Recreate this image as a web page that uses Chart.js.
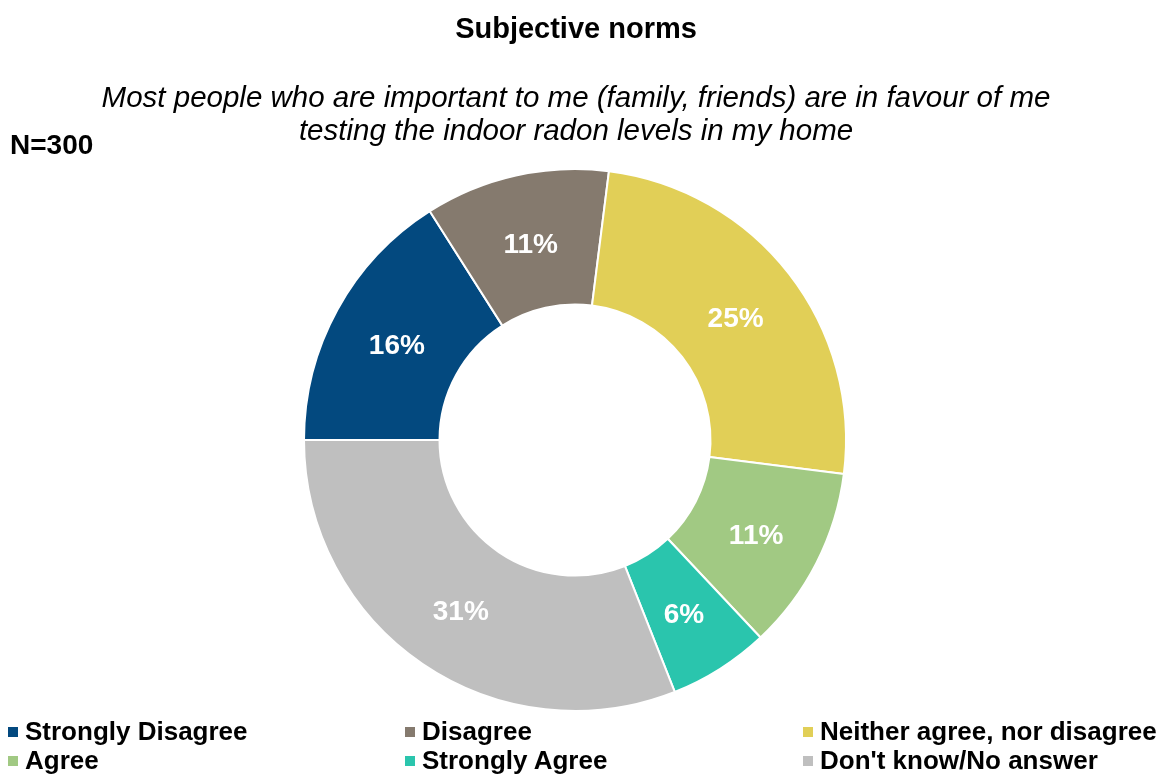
<!DOCTYPE html>
<html>
<head>
<meta charset="utf-8">
<script src="https://cdn.jsdelivr.net/npm/chart.js@4"></script>
<style>
  body { margin: 0; background: #fff; font-family: "Liberation Sans", Arial, sans-serif; }
  #wrap { position: relative; width: 1169px; height: 774px; overflow: hidden; }
  #chart { position: absolute; left: 0; top: 0; }
  .title { position: absolute; left: 0; width: 1152px; text-align: center; color: #000; line-height: 33px; }
  #t1 { top: 12px; font-size: 29px; font-weight: bold; }
  #t2 { top: 80px; font-size: 29.5px; font-style: italic; }
  #n { position: absolute; left: 10px; top: 129px; font-size: 28px; font-weight: bold; line-height: 32px; }
  .leg { position: absolute; font-size: 26px; font-weight: bold; white-space: nowrap; line-height: 30px; }
  .leg span { display: inline-block; width: 10px; height: 10px; margin-right: 7px; vertical-align: 3px; }
</style>
</head>
<body>
<div id="wrap">
  <canvas id="chart" width="1169" height="774"></canvas>
  <div class="title" id="t1">Subjective norms</div>
  <div class="title" id="t2">Most people who are important to me (family, friends) are in favour of me<br>testing the indoor radon levels in my home</div>
  <div id="n">N=300</div>
</div>
<script>
// answer categories and share of respondents (%)
const labels = ["Strongly Disagree", "Disagree", "Neither agree, nor disagree", "Agree", "Strongly Agree", "Don't know/No answer"];
const values = [16, 11, 25, 11, 6, 31];
const colors = ["#03497f", "#857a6e", "#e1cf57", "#a1c983", "#2ac5ad", "#bfbfbf"];

// legend: 3 columns, 2 rows
const legCols = [8, 405, 803];
const legRows = [716, 745];
labels.forEach((lab, i) => {
  const d = document.createElement("div");
  d.className = "leg";
  d.style.left = legCols[i % 3] + "px";
  d.style.top = legRows[Math.floor(i / 3)] + "px";
  d.innerHTML = `<span style="background:${colors[i]}"></span>${lab}`;
  document.getElementById("wrap").appendChild(d);
});

// draws the % inside each slice
const sliceLabels = {
  id: "sliceLabels",
  afterDatasetsDraw(chart) {
    const ctx = chart.ctx;
    const meta = chart.getDatasetMeta(0);
    ctx.save();
    ctx.fillStyle = "#fff";
    ctx.font = "bold 28px 'Liberation Sans', Arial, sans-serif";
    ctx.textAlign = "center";
    ctx.textBaseline = "middle";
    meta.data.forEach((arc, i) => {
      const p = arc.tooltipPosition();
      ctx.fillText(values[i] + "%", p.x, p.y + 4);
    });
    ctx.restore();
  }
};

new Chart(document.getElementById("chart"), {
  type: "doughnut",
  data: {
    labels: labels,
    datasets: [{
      data: values,
      backgroundColor: colors,
      borderColor: "#fff",
      borderWidth: 2,
      hoverOffset: 0
    }]
  },
  options: {
    responsive: false,
    animation: false,
    rotation: -90,
    cutout: "50%",
    layout: { padding: { top: 168, bottom: 62, left: 0, right: 19 } },
    plugins: {
      legend: { display: false },
      tooltip: { enabled: false }
    }
  },
  plugins: [sliceLabels]
});
</script>
</body>
</html>
